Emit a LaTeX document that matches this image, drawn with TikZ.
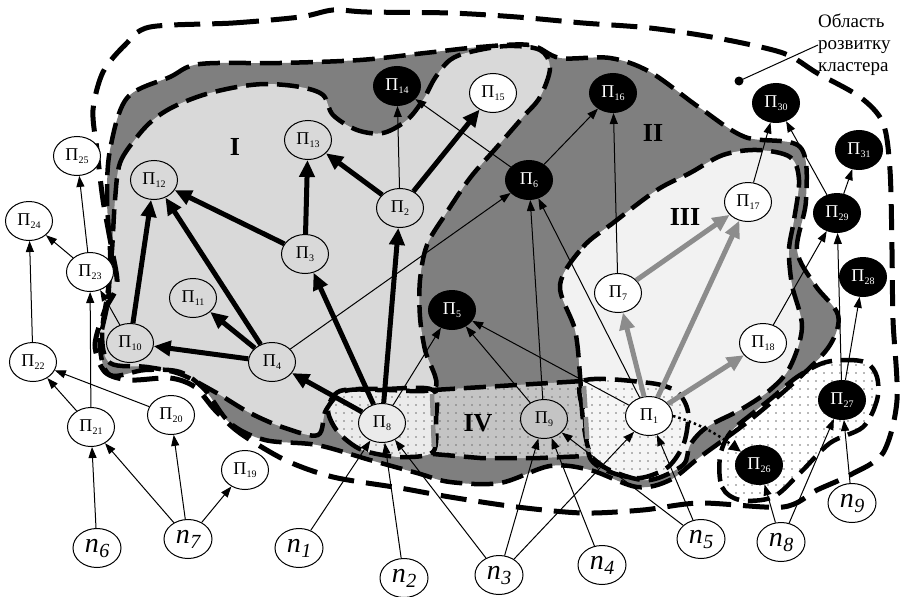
\documentclass[tikz,border=0pt]{standalone}
\usepackage{fontspec}
\setmainfont{Liberation Serif}
\usetikzlibrary{arrows.meta,shapes.geometric,patterns.meta}
\definecolor{darkreg}{HTML}{7F7F7F}
\definecolor{regI}{HTML}{D9D9D9}
\definecolor{regIII}{HTML}{F2F2F2}
\definecolor{regIV}{HTML}{C4C4C4}
\definecolor{regE}{HTML}{EBEBEB}
\definecolor{regA}{HTML}{F5F5F5}
\definecolor{garr}{HTML}{8C8C8C}
\newcommand\pl[1]{П\kern0.2pt\raisebox{-3pt}{\fontsize{10}{10}\selectfont #1}}
\newcommand\nl[1]{{\fontsize{28}{28}\selectfont\itshape n\kern0.5pt\raisebox{-5pt}{\fontsize{20}{20}\selectfont #1}}}
\tikzset{
  pnode/.style={ellipse, draw, line width=1pt, minimum width=47pt, minimum height=39pt, inner sep=0pt, font=\fontsize{18}{18}\selectfont},
  pw/.style={pnode, fill=white},
  pb/.style={pnode, fill=black, text=white},
  pt/.style={pnode},
  nnode/.style={ellipse, draw, line width=1pt, fill=white, minimum width=48pt, minimum height=39pt, inner sep=0pt},
  bar/.style={line width=5pt, -{Triangle[length=17pt,width=15pt]}},
  garrow/.style={bar, draw=garr, fill=garr},
  ln/.style={line width=1pt, -{Triangle[length=11pt,width=8pt]}},
  bnd/.style={line width=4.5pt, dash pattern=on 22pt off 9pt},
  obnd/.style={line width=5pt, dash pattern=on 26pt off 12pt},
  gbnd/.style={line width=4.5pt, draw=garr, dash pattern=on 22pt off 9pt},
  dotfill/.style={pattern={Dots[distance=8pt,radius=0.9pt]}, pattern color=black!55},
  roman/.style={font=\fontsize{26}{26}\selectfont\bfseries}
}
\begin{document}
\begin{tikzpicture}[x=1pt,y=-1pt]
\useasboundingbox (0,0) rectangle (900,597);
% ---------- regions ----------
\def\Dpath{plot[smooth cycle, tension=0.55] coordinates {(127,98) (170,77) (200,64) (280,63) (360,60) (425,53) (480,47) (530,45) (560,58) (610,58) (650,72) (700,108) (745,137) (800,147) (806,200) (797,250) (815,285) (838,315) (830,345) (800,377) (750,420) (700,457) (670,480) (637,487) (590,470) (550,466) (500,483) (450,482) (417,473) (370,460) (317,445) (265,440) (230,423) (205,390) (180,372) (145,370) (110,375) (100,345) (108,300) (110,250) (107,200) (110,150)}}
\def\Ipath{plot[smooth cycle, tension=0.55] coordinates {(115,200) (120,163) (137,137) (153,120) (173,107) (203,95) (237,87) (267,84) (300,87) (323,95) (333,115) (357,130) (383,133) (407,120) (423,100) (435,78) (450,60) (470,52) (507,46) (540,50) (550,68) (540,97) (523,117) (497,147) (470,178) (445,215) (427,245) (420,280) (420,317) (425,350) (435,388) (385,390) (345,391) (326,410) (318,435) (285,428) (250,413) (215,392) (180,374) (147,367) (110,363) (102,335) (108,290) (112,250)}}
\def\IIIpath{plot[smooth cycle, tension=0.55] coordinates {(560,285) (583,247) (613,223) (657,190) (690,173) (723,155) (757,150) (790,157) (799,180) (794,220) (789,250) (792,285) (802,327) (790,367) (770,390) (740,410) (707,427) (690,445) (683,465) (650,480) (617,473) (592,457) (583,420) (580,375) (575,330)}}
\def\Epath{plot[smooth cycle, tension=0.5] coordinates {(340,391) (385,389) (433,390) (436,420) (433,452) (400,457) (362,450) (338,432) (328,410)}}
\def\IVpath{(433,390) -- (500,386) -- (583,381) -- (585,420) -- (587,456) -- (540,458) -- (480,458) -- (433,454) -- cycle}
\def\Apath{plot[smooth cycle, tension=0.5] coordinates {(583,381) (650,383) (677,392) (688,412) (684,443) (668,467) (640,478) (610,472) (590,458) (585,420)}}
\def\Vpath{plot[smooth cycle, tension=0.55] coordinates {(720,457) (722,487) (740,500) (773,497) (800,473) (830,443) (863,427) (877,400) (877,377) (867,363) (847,360) (823,363) (797,377) (773,397) (753,413) (730,433)}}
\def\Opath{plot[smooth cycle, tension=0.5] coordinates {(150,27) (233,23) (300,17) (333,10) (367,12) (450,13) (517,17) (583,23) (650,28) (717,38) (783,53) (817,73) (860,97) (883,123) (890,170) (892,250) (893,320) (897,400) (883,453) (850,475) (817,490) (783,507) (700,503) (643,510) (583,513) (517,507) (450,497) (400,488) (333,477) (285,460) (240,433) (215,410) (195,387) (170,378) (130,380) (105,372) (95,345) (105,310) (117,285) (112,250) (103,200) (97,150) (93,110) (103,72) (125,45)}}
\fill[darkreg] \Dpath;
\fill[regI] \Ipath;
\fill[regIII] \IIIpath;
\fill[regE] \Epath;
\fill[dotfill] \Epath;
\fill[regIV] \IVpath;
\fill[dotfill] \IVpath;
\fill[regA] \Apath;
\fill[dotfill] \Apath;
\fill[white] \Vpath;
\fill[dotfill] \Vpath;
% ---------- boundaries ----------
\draw[bnd] \Dpath;
\draw[bnd] \Ipath;
\draw[bnd] \IIIpath;
\draw[bnd] \Epath;
\draw[bnd] (433,390) -- (500,386) -- (583,381);
\draw[bnd] (433,454) -- (480,458) -- (540,458) -- (587,456);
\draw[bnd] \Apath;
\draw[gbnd] (432,394) -- (434,450);
\draw[gbnd] (584,386) -- (588,452);
\draw[bnd] \Vpath;
\draw[obnd] \Opath;
% ---------- nodes ----------
\node[pw] (P1) at (649,416) {\pl{1}};
\node[pt] (P2) at (400,208) {\pl{2}};
\node[pt] (P3) at (305,254) {\pl{3}};
\node[pt] (P4) at (272,362) {\pl{4}};
\node[pb] (P5) at (452,310) {\pl{5}};
\node[pb] (P6) at (529,180) {\pl{6}};
\node[pw] (P7) at (618,293) {\pl{7}};
\node[pnode, fill=regE] (P8) at (382,423) {\pl{8}};
\node[pnode, fill=regIV] (P9) at (544,419) {\pl{9}};
\node[pt] (P10) at (130,343) {\pl{10}};
\node[pt] (P11) at (193,298) {\pl{11}};
\node[pt] (P12) at (154,180) {\pl{12}};
\node[pt] (P13) at (308,140) {\pl{13}};
\node[pb] (P14) at (397,86) {\pl{14}};
\node[pw] (P15) at (493,93) {\pl{15}};
\node[pb] (P16) at (613,93) {\pl{16}};
\node[pw] (P17) at (748,202) {\pl{17}};
\node[pw] (P18) at (763,343) {\pl{18}};
\node[pw] (P19) at (245,470) {\pl{19}};
\node[pw] (P20) at (171,415) {\pl{20}};
\node[pw] (P21) at (91,427) {\pl{21}};
\node[pw] (P22) at (33,362) {\pl{22}};
\node[pw] (P23) at (90,272) {\pl{23}};
\node[pw] (P24) at (29,221) {\pl{24}};
\node[pw] (P25) at (77,156) {\pl{25}};
\node[pb] (P26) at (759,465) {\pl{26}};
\node[pb] (P27) at (842,400) {\pl{27}};
\node[pb] (P28) at (863,277) {\pl{28}};
\node[pb] (P29) at (837,213) {\pl{29}};
\node[pb] (P30) at (776,103) {\pl{30}};
\node[pb] (P31) at (859,150) {\pl{31}};
\node[nnode] (n1) at (299,548) {\nl{1}};
\node[nnode] (n2) at (404,578) {\nl{2}};
\node[nnode] (n3) at (499,575) {\nl{3}};
\node[nnode] (n4) at (602,565) {\nl{4}};
\node[nnode] (n5) at (701,539) {\nl{5}};
\node[nnode] (n6) at (97,548) {\nl{6}};
\node[nnode] (n7) at (188,539) {\nl{7}};
\node[nnode] (n8) at (781,542) {\nl{8}};
\node[nnode] (n9) at (852,503) {\nl{9}};
% ---------- labels ----------
\node[roman] (LI) at (235,147) {I};
\node[roman] (LII) at (653,133) {II};
\node[roman] (LIII) at (685,217) {III};
\node[roman] (LIV) at (478,423) {IV};
\node[anchor=west, align=left, inner sep=0pt, font=\fontsize{19}{22}\selectfont] (lbl) at (818,45) {Область\\розвитку\\кластера};
\coordinate (dot) at (739,81);
\fill (dot) circle (4.5pt);
\draw[line width=1pt] (dot) -- (lbl.west);
% ---------- thick arrows ----------
\draw[bar] (P10) -- (P12);
\draw[bar] (P4) -- (P12);
\draw[bar] (P4) -- (P10);
\draw[bar] (P4) -- (P11);
\draw[bar] (P3) -- (P12);
\draw[bar] (P3) -- (P13);
\draw[bar] (P2) -- (P13);
\draw[bar] (P2) -- (P15);
\draw[bar] (P8) -- (P4);
\draw[bar] (P8) -- (P3);
\draw[bar] (P8) -- (P2);
\draw[garrow] (P1) -- (P7);
\draw[garrow] (P1) -- (P17);
\draw[garrow] (P1) -- (P18);
\draw[garrow] (P7) -- (P17);
% ---------- thin arrows ----------
\draw[ln] (P2) -- (P14);
\draw[ln] (P6) -- (P14);
\draw[ln] (P6) -- (P16);
\draw[ln] (P4) -- (P6);
\draw[ln] (P9) -- (P6);
\draw[ln] (P1) -- (P6);
\draw[ln] (P7) -- (P16);
\draw[ln] (P17) -- (P30);
\draw[ln] (P29) -- (P30);
\draw[ln] (P29) -- (P31);
\draw[ln] (P18) -- (P29);
\draw[ln] (P27) -- (P29);
\draw[ln] (P27) -- (P28);
\draw[ln] (n8) -- (P27);
\draw[ln] (n9) -- (P27);
\draw[ln] (n8) -- (P26);
\draw[ln] (P9) -- (P5);
\draw[ln] (P1) -- (P5);
\draw[ln] (P8) -- (P5);
\draw[ln] (n1) -- (P8);
\draw[ln] (n2) -- (P8);
\draw[ln] (n3) -- (P8);
\draw[ln] (n3) -- (P9);
\draw[ln] (n3) -- (P1);
\draw[ln] (n4) -- (P9);
\draw[ln] (n5) -- (P9);
\draw[ln] (n5) -- (P1);
\draw[ln] (n7) -- (P21);
\draw[ln] (n7) -- (P20);
\draw[ln] (n7) -- (P19);
\draw[ln] (n6) -- (P21);
\draw[ln] (P21) -- (P22);
\draw[ln] (P20) -- (P22);
\draw[ln] (P21) -- (P23);
\draw[ln] (P23) -- (P24);
\draw[ln] (P23) -- (P25);
\draw[ln] (P22) -- (P24);
\draw[ln] (P10) -- (P23);
\draw[line width=2.5pt, dash pattern=on 2.5pt off 3pt, -{Triangle[length=12pt,width=11pt]}] (P1.east) .. controls (705,425) and (725,440) .. (P26);
\end{tikzpicture}
\end{document}
